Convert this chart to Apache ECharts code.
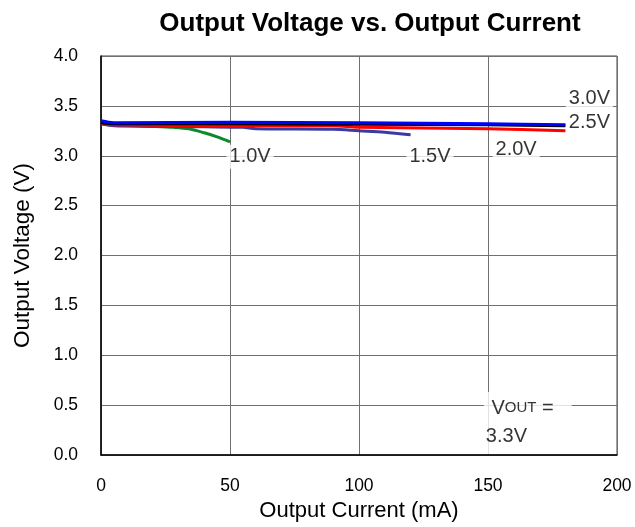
<!DOCTYPE html>
<html>
<head>
<meta charset="utf-8">
<script src="https://cdn.jsdelivr.net/npm/echarts@6/dist/echarts.min.js"></script>
<style>
  html, body { margin: 0; padding: 0; background: #fff; }
  #chart { width: 635px; height: 527px; }
</style>
</head>
<body>
<div id="chart"></div>
<script>
// curves: [current mA, output V]
const curve10 = [[0, 3.33], [5, 3.31], [20, 3.295], [28, 3.285], [34, 3.27], [40, 3.23], [45, 3.19], [50, 3.14]];
const curve15 = [[0, 3.32], [5, 3.30], [40, 3.29], [55, 3.285], [60, 3.27], [90, 3.265], [100, 3.25], [110, 3.235], [120, 3.21]];
const curve20 = [[0, 3.32], [5, 3.31], [50, 3.30], [90, 3.30], [100, 3.285], [150, 3.27], [180, 3.25]];
const curve30 = [[0, 3.33], [5, 3.32], [50, 3.32], [100, 3.315], [150, 3.31], [180, 3.30]];
const curve25 = [[0, 3.35], [5, 3.33], [50, 3.335], [100, 3.33], [150, 3.32], [180, 3.31]];

const xTicks = [0, 50, 100, 150, 200];
const yTicks = [0, 0.5, 1.0, 1.5, 2.0, 2.5, 3.0, 3.5, 4.0];

// curve labels, in data coordinates
const notes = [
  [57.8, 2.99, '1.0V'],
  [127.5, 2.99, '1.5V'],
  [160.9, 3.06, '2.0V'],
  [189.3, 3.57, '3.0V'],
  [189.3, 3.33, '2.5V']
];
const voutNote = [148.4, 0.32];

const font = '"Liberation Sans", Arial, sans-serif';
const chart = echarts.init(document.getElementById('chart'));

const line = (name, data, color) => ({
  name: name,
  type: 'line',
  data: data,
  showSymbol: false,
  smooth: 0.3,
  lineStyle: { color: color, width: 3 },
  z: 3
});

chart.setOption({
  animation: false,
  textStyle: { fontFamily: font },
  title: {
    text: 'Output Voltage vs. Output Current',
    left: 365,
    top: 6,
    textAlign: 'center',
    textStyle: { fontSize: 26, fontWeight: 'bold', color: '#000', fontFamily: font }
  },
  grid: {
    left: 101, right: 18, top: 56, bottom: 71,
    show: true, borderColor: '#444', borderWidth: 1
  },
  xAxis: {
    type: 'value',
    min: xTicks[0], max: xTicks[xTicks.length - 1], interval: 50,
    name: 'Output Current (mA)',
    nameLocation: 'middle',
    nameGap: 45,
    nameTextStyle: { fontSize: 22, color: '#000', fontFamily: font },
    axisLine: { lineStyle: { color: '#000', width: 1.5 } },
    axisTick: { show: false },
    axisLabel: { fontSize: 17.5, color: '#000', margin: 22, fontFamily: font },
    splitLine: { lineStyle: { color: '#707070', width: 1 } }
  },
  yAxis: {
    type: 'value',
    min: yTicks[0], max: yTicks[yTicks.length - 1], interval: 0.5,
    name: 'Output Voltage (V)',
    nameLocation: 'middle',
    nameGap: 67,
    nameTextStyle: { fontSize: 22.5, color: '#000', fontFamily: font },
    axisLine: { lineStyle: { color: '#000', width: 1.5 } },
    axisTick: { show: false },
    axisLabel: { fontSize: 17.5, color: '#000', margin: 23, fontFamily: font, formatter: v => v.toFixed(1) },
    splitLine: { lineStyle: { color: '#707070', width: 1 } }
  },
  series: [
    {
      type: 'scatter',
      symbolSize: 0,
      z: 2,
      data: notes.map(n => ({ value: [n[0], n[1]], name: n[2] })),
      label: {
        show: true,
        position: 'inside',
        formatter: p => p.name,
        fontSize: 20,
        color: '#000',
        fontFamily: font,
        backgroundColor: '#fff',
        padding: [1, 3, 3, 3]
      }
    },
    {
      type: 'scatter',
      symbolSize: 0,
      z: 2,
      data: [{ value: voutNote, name: 'VOUT = 3.3V' }],
      label: {
        show: true,
        position: 'inside',
        formatter: ' {v|V}{s|OUT} =\n3.3V',
        align: 'left',
        color: '#000',
        fontFamily: font,
        backgroundColor: '#fff',
        padding: [2, 18, 4, 2],
        rich: {
          v: { fontSize: 20, fontFamily: font, color: '#000', lineHeight: 28 },
          s: { fontSize: 15, fontFamily: font, color: '#000', lineHeight: 28 }
        },
        fontSize: 20,
        lineHeight: 28
      }
    },
    line('1.0V', curve10, '#0a8a2a'),
    line('1.5V', curve15, '#3a3aa0'),
    line('2.0V', curve20, '#ff0000'),
    line('3.0V', curve30, '#000000'),
    line('2.5V', curve25, '#0000ff')
  ]
});
</script>
</body>
</html>
